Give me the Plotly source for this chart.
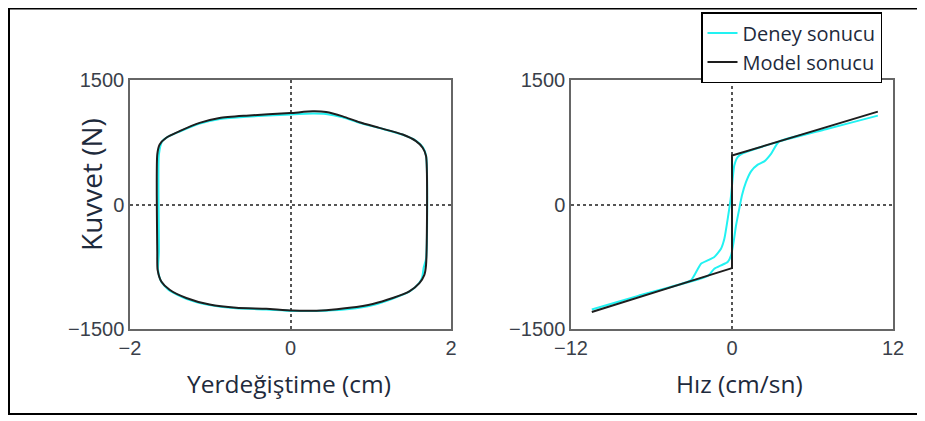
import plotly.graph_objects as go

# ---------------- data ----------------
# Left panel: force vs displacement (hysteresis loop)
disp_model = [-1.66, -1.63, -1.548, -1.382, -1.133, -0.884, -0.552, 0.0, 0.278, 0.444, 0.651, 0.859,
              1.108, 1.398, 1.564, 1.647, 1.689, 1.689, 1.668, 1.606, 1.481, 1.274, 1.025, 0.734,
              0.444, 0.029, -0.303, -0.676, -1.008, -1.299, -1.506, -1.61, -1.656, -1.66, -1.66]
force_model_d = [605, 724, 804, 883, 983, 1042, 1070, 1102, 1122, 1114, 1062, 991,
                 923, 843, 764, 684, 585, -728, -848, -947, -1046, -1126, -1198, -1245,
                 -1273, -1277, -1257, -1245, -1206, -1126, -1027, -927, -788, -569, 605]

disp_exp = [-1.64, -1.60, -1.53, -1.38, -1.13, -0.88, -0.55, 0.0, 0.28, 0.44, 0.65, 0.86,
            1.11, 1.40, 1.56, 1.65, 1.69, 1.69, 1.66, 1.64, 1.60, 1.48, 1.27, 1.03, 0.73,
            0.44, 0.03, -0.30, -0.68, -1.01, -1.30, -1.51, -1.61, -1.65, -1.64, -1.64]
force_exp_d = [600, 760, 815, 880, 975, 1030, 1058, 1085, 1095, 1090, 1050, 985,
               920, 840, 770, 690, 585, -650, -760, -880, -950, -1050, -1135, -1210, -1260,
               -1280, -1282, -1265, -1250, -1212, -1135, -1035, -930, -790, -570, 600]

# Right panel: force vs velocity
vel_model = [-10.45, 0.0, 0.0, 10.87]
force_model_v = [-1295, -766, 589, 1119]

vel_exp = [-10.45, -7.0, -3.06, -2.81, -2.31, -1.81, -1.32, -0.82, -0.57, -0.32, -0.07, 0.05,
           0.17, 0.42, 0.8, 3.5, 7.0, 10.87, 7.0, 3.5, 2.91, 2.41, 1.92, 1.42, 1.04, 0.74,
           0.54, 0.30, 0.12, -0.07, -0.32, -0.82, -1.32, -1.8, -7.0, -10.45]
force_exp_v = [-1265, -1101, -914, -854, -713, -674, -633, -533, -413, -172, 108, 309,
               469, 570, 615, 758, 907, 1071, 907, 758, 610, 520, 480, 400, 269, 108,
               -52, -253, -452, -613, -693, -734, -774, -860, -1101, -1265]

xticks_left = [-2, 0, 2]
xticks_right = [-12, 0, 12]
yticks = [-1500, 0, 1500]

names = ["Deney sonucu", "Model sonucu"]
xtitle_left = "Yerdeğiştime (cm)"
xtitle_right = "Hız (cm/sn)"
ytitle = "Kuvvet (N)"

# ---------------- figure ----------------
CYAN = "#22f2f2"
BLACK = "#1e1e1e"
OFF = 8                      # page body margin
W, H = 925 - OFF, 421 - OFF  # figure size


def px(xp):   # page x pixel -> paper fraction
    return (xp - OFF) / W


def py(yp):   # page y pixel -> paper fraction
    return (H - (yp - OFF)) / H


fig = go.Figure()
fig.add_trace(go.Scatter(x=disp_exp, y=force_exp_d, mode="lines", name=names[0],
                         line=dict(color=CYAN, width=2, shape="spline", smoothing=0.6),
                         xaxis="x", yaxis="y"))
fig.add_trace(go.Scatter(x=disp_model, y=force_model_d, mode="lines", name=names[1],
                         line=dict(color=BLACK, width=2, shape="spline", smoothing=0.6),
                         xaxis="x", yaxis="y"))
fig.add_trace(go.Scatter(x=vel_exp, y=force_exp_v, mode="lines", name=names[0],
                         line=dict(color=CYAN, width=2, shape="spline", smoothing=0.5),
                         xaxis="x2", yaxis="y2", showlegend=False))
fig.add_trace(go.Scatter(x=vel_model, y=force_model_v, mode="lines", name=names[1],
                         line=dict(color=BLACK, width=2),
                         xaxis="x2", yaxis="y2", showlegend=False))

tickfont = dict(family="Liberation Sans, Arial, sans-serif", size=20, color="#3a3f4a")
axis_common = dict(showline=True, mirror=True, linecolor="#666666", linewidth=1.5,
                   ticks="", showgrid=True, gridcolor="#555555", griddash="dot",
                   gridwidth=1.5, zeroline=False, tickfont=tickfont, fixedrange=True,
                   automargin=False)

y_dom = [py(329), py(80)]
fig.update_layout(
    width=W, height=H,
    margin=dict(l=0, r=0, t=0, b=0, pad=0, autoexpand=False),
    paper_bgcolor="white", plot_bgcolor="white",
    xaxis=dict(domain=[px(130), px(451)], range=[-2, 2], tickvals=xticks_left,
               anchor="y", **axis_common),
    yaxis=dict(domain=y_dom, range=[-1500, 1500], tickvals=yticks, anchor="x",
               **axis_common),
    xaxis2=dict(domain=[px(571), px(893)], range=[-12, 12], tickvals=xticks_right,
                anchor="y2", **axis_common),
    yaxis2=dict(domain=y_dom, range=[-1500, 1500], tickvals=yticks, anchor="x2",
                **axis_common),
    legend=dict(x=px(701), y=py(12), xanchor="left", yanchor="top",
                bgcolor="white", bordercolor="black", borderwidth=1.5,
                font=dict(family="Open Sans, sans-serif", size=20, color="#1e2a3c"),
                tracegroupgap=0, itemwidth=30),
    showlegend=True,
)

titlefont = dict(family="Open Sans, sans-serif", size=24.5, color="#1e2a3c")
fig.add_annotation(text=xtitle_left, x=px(289), y=py(383), xref="paper", yref="paper",
                   showarrow=False, font=titlefont, xanchor="center", yanchor="middle")
fig.add_annotation(text=xtitle_right, x=px(739), y=py(383), xref="paper", yref="paper",
                   showarrow=False, font=titlefont, xanchor="center", yanchor="middle")
fig.add_annotation(text=ytitle, x=px(91), y=py(185), xref="paper", yref="paper",
                   showarrow=False, font=dict(family="Open Sans, sans-serif", size=28,
                                              color="#1e2a3c"),
                   textangle=-90, xanchor="center", yanchor="middle")

# outer frame
fig.add_shape(type="rect", xref="paper", yref="paper",
              x0=px(9), x1=1.05, y0=py(414), y1=1 - 0.5 / H,
              line=dict(color="black", width=2), fillcolor="rgba(0,0,0,0)", layer="below")

fig.write_html("out.html")
